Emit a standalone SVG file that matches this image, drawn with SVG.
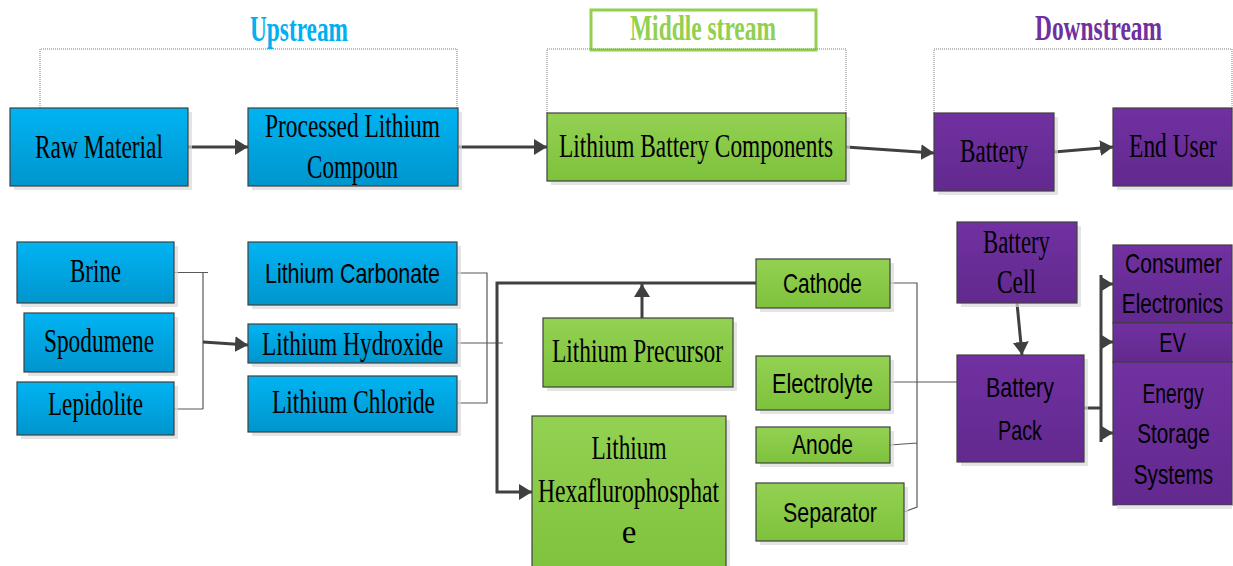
<svg xmlns="http://www.w3.org/2000/svg" width="1233" height="566" viewBox="0 0 1233 566">
<style>
.sh{fill:#d9d9d9;opacity:0.7}
.bl{fill:url(#gB);stroke:#404040;stroke-width:1.2}
.gr{fill:url(#gG);stroke:#404040;stroke-width:1.2}
.pu{fill:url(#gP);stroke:#404040;stroke-width:1.2}
.se{font-family:"Liberation Serif","Times New Roman",serif;font-size:33px;fill:#000;text-anchor:middle}
.sa{font-family:"Liberation Sans",Arial,sans-serif;font-size:28px;fill:#000;text-anchor:middle}
.ti{font-family:"Liberation Serif","Times New Roman",serif;font-size:35px;font-weight:bold;text-anchor:middle}
.dot{fill:none;stroke:#808080;stroke-width:1;stroke-dasharray:1 1}
.thin{fill:none;stroke:#595959;stroke-width:1.2}
.thk{fill:none;stroke:#404040;stroke-width:3}
</style>
<defs>
<linearGradient id="gB" x1="0" y1="0" x2="0" y2="1"><stop offset="0" stop-color="#00B4F2"/><stop offset="1" stop-color="#0095CD"/></linearGradient>
<linearGradient id="gG" x1="0" y1="0" x2="0" y2="1"><stop offset="0" stop-color="#93D152"/><stop offset="1" stop-color="#7EC23C"/></linearGradient>
<linearGradient id="gP" x1="0" y1="0" x2="0" y2="1"><stop offset="0" stop-color="#7131A1"/><stop offset="1" stop-color="#62298E"/></linearGradient>
<marker id="ar" markerUnits="userSpaceOnUse" markerWidth="14" markerHeight="18" refX="13" refY="8" orient="auto"><path d="M0,0 L13,8 L0,16 Z" fill="#404040"/></marker>
</defs>

<g id="labels">
<text class="ti" x="299" y="41" textLength="98" lengthAdjust="spacingAndGlyphs" fill="#00B0F0">Upstream</text>
<rect x="591" y="10" width="225" height="40" fill="#fff" stroke="#92D050" stroke-width="3"/>
<text class="ti" x="703" y="40" textLength="146" lengthAdjust="spacingAndGlyphs" fill="#92D050">Middle stream</text>
<text class="ti" x="1098.5" y="40" textLength="127" lengthAdjust="spacingAndGlyphs" fill="#7030A0">Downstream</text>
</g>

<g id="brackets">
<path class="dot" d="M40,108 V49 H457 V108"/>
<path class="dot" d="M547,113 V49 H846 V113"/>
<path class="dot" d="M934,113 V49 H1232 V113"/>
</g>

<g id="connectors">
<path class="thk" d="M188,147 H248" marker-end="url(#ar)"/>
<path class="thk" d="M458,147 H547" marker-end="url(#ar)"/>
<path class="thk" d="M846,147 L934,153" marker-end="url(#ar)"/>
<path class="thk" d="M1054,152 L1113,147" marker-end="url(#ar)"/>
<path class="thin" d="M174,272.5 H208 M203,272.5 V409 M174,409 H203"/>
<path class="thk" d="M203,342 L248,345" marker-end="url(#ar)"/>
<path class="thin" d="M457,273 H487 V403 H457 M457,343 H503"/>
<path class="thk" d="M756,283 H497 V492 H532" marker-end="url(#ar)"/>
<path class="thk" d="M642,318 V284" marker-end="url(#ar)"/>
<path class="thin" d="M890,283 H917 V507 L904,512 M890,445 L917,443 M890,382 H957"/>
<path class="thk" d="M1017,303 L1022,355" marker-end="url(#ar)"/>
<path class="thk" d="M1084,408 H1101 M1101,275 V442"/>
<path class="thk" d="M1101,284 H1113" marker-end="url(#ar)"/>
<path class="thk" d="M1101,342 H1113" marker-end="url(#ar)"/>
<path class="thk" d="M1101,433 H1113" marker-end="url(#ar)"/>
</g>

<g id="raw-material"><rect class="sh" x="14" y="112" width="178" height="78"/><rect class="bl" x="10" y="108" width="178" height="78"/><text class="se" x="99" y="158" textLength="128" lengthAdjust="spacingAndGlyphs">Raw Material</text></g>
<g id="processed-lithium"><rect class="sh" x="252" y="112" width="210" height="78"/><rect class="bl" x="248" y="108" width="210" height="78"/><text class="se" x="352.5" y="137" textLength="175" lengthAdjust="spacingAndGlyphs">Processed Lithium</text><text class="se" x="352.5" y="178" textLength="91" lengthAdjust="spacingAndGlyphs">Compoun</text></g>
<g id="lithium-battery-components"><rect class="sh" x="551" y="117" width="299" height="68"/><rect class="gr" x="547" y="113" width="299" height="68"/><text class="se" x="696" y="157" textLength="274" lengthAdjust="spacingAndGlyphs">Lithium Battery Components</text></g>
<g id="battery"><rect class="sh" x="938" y="117" width="120" height="78"/><rect class="pu" x="934" y="113" width="120" height="78"/><text class="se" x="994" y="162" textLength="68" lengthAdjust="spacingAndGlyphs">Battery</text></g>
<g id="end-user"><rect class="sh" x="1117" y="112" width="116" height="78"/><rect class="pu" x="1113" y="108" width="119" height="78"/><text class="se" transform="translate(1173,157) scale(0.71,1)">End User</text></g>

<g id="brine"><rect class="sh" x="21" y="246" width="157" height="61"/><rect class="bl" x="17" y="242" width="157" height="61"/><text class="se" x="95.5" y="282" textLength="51" lengthAdjust="spacingAndGlyphs">Brine</text></g>
<g id="spodumene"><rect class="sh" x="28" y="317" width="150" height="59"/><rect class="bl" x="24" y="313" width="150" height="59"/><text class="se" x="99" y="352" textLength="110" lengthAdjust="spacingAndGlyphs">Spodumene</text></g>
<g id="lepidolite"><rect class="sh" x="21" y="386" width="157" height="53"/><rect class="bl" x="17" y="382" width="157" height="53"/><text class="se" x="95.5" y="415" textLength="95" lengthAdjust="spacingAndGlyphs">Lepidolite</text></g>

<g id="lithium-carbonate"><rect class="sh" x="252" y="246" width="209" height="63"/><rect class="bl" x="248" y="242" width="209" height="63"/><text class="sa" x="352.5" y="283" textLength="175" lengthAdjust="spacingAndGlyphs">Lithium Carbonate</text></g>
<g id="lithium-hydroxide"><rect class="sh" x="252" y="328" width="209" height="39"/><rect class="bl" x="248" y="324" width="209" height="39"/><text class="se" x="352.5" y="355" textLength="181" lengthAdjust="spacingAndGlyphs">Lithium Hydroxide</text></g>
<g id="lithium-chloride"><rect class="sh" x="252" y="380" width="209" height="56"/><rect class="bl" x="248" y="376" width="209" height="56"/><text class="se" x="353.5" y="413" textLength="163" lengthAdjust="spacingAndGlyphs">Lithium Chloride</text></g>

<g id="lithium-precursor"><rect class="sh" x="547" y="322" width="190" height="69"/><rect class="gr" x="543" y="318" width="190" height="69"/><text class="se" x="637.5" y="362" textLength="171" lengthAdjust="spacingAndGlyphs">Lithium Precursor</text></g>
<g id="lithium-hexafluorophosphate"><rect class="sh" x="536" y="420" width="194" height="160"/><rect class="gr" x="532" y="416" width="194" height="160"/><text class="se" x="629" y="459" textLength="75" lengthAdjust="spacingAndGlyphs">Lithium</text><text class="se" x="628.5" y="502" textLength="181" lengthAdjust="spacingAndGlyphs">Hexaflurophosphat</text><text class="se" x="629" y="543">e</text></g>

<g id="cathode"><rect class="sh" x="760" y="263" width="134" height="49"/><rect class="gr" x="756" y="259" width="134" height="49"/><text class="sa" x="822.5" y="293" textLength="79" lengthAdjust="spacingAndGlyphs">Cathode</text></g>
<g id="electrolyte"><rect class="sh" x="760" y="360" width="134" height="54"/><rect class="gr" x="756" y="356" width="134" height="54"/><text class="sa" x="822.5" y="393" textLength="101" lengthAdjust="spacingAndGlyphs">Electrolyte</text></g>
<g id="anode"><rect class="sh" x="760" y="431" width="134" height="36"/><rect class="gr" x="756" y="427" width="134" height="36"/><text class="sa" x="822.5" y="454" textLength="61" lengthAdjust="spacingAndGlyphs">Anode</text></g>
<g id="separator"><rect class="sh" x="760" y="487" width="148" height="58"/><rect class="gr" x="756" y="483" width="148" height="58"/><text class="sa" x="830" y="522" textLength="94" lengthAdjust="spacingAndGlyphs">Separator</text></g>

<g id="battery-cell"><rect class="sh" x="961" y="226" width="120" height="81"/><rect class="pu" x="957" y="222" width="120" height="81"/><text class="se" x="1016.5" y="253" textLength="67" lengthAdjust="spacingAndGlyphs">Battery</text><text class="se" x="1016.5" y="293" textLength="39" lengthAdjust="spacingAndGlyphs">Cell</text></g>
<g id="battery-pack"><rect class="sh" x="961" y="359" width="127" height="107"/><rect class="pu" x="957" y="355" width="127" height="107"/><text class="sa" x="1020" y="397" textLength="68" lengthAdjust="spacingAndGlyphs">Battery</text><text class="sa" x="1020" y="440" textLength="44" lengthAdjust="spacingAndGlyphs">Pack</text></g>

<g id="consumer-electronics"><rect class="pu" x="1113" y="245" width="119" height="78"/><text class="sa" transform="translate(1173.5,273) scale(0.75,1)">Consumer</text><text class="sa" transform="translate(1172.5,313) scale(0.74,1)">Electronics</text></g>
<g id="ev"><rect class="pu" x="1113" y="323" width="119" height="39"/><text class="sa" transform="translate(1172.5,352) scale(0.71,1)">EV</text></g>
<g id="energy-storage-systems"><rect class="pu" x="1113" y="362" width="119" height="143"/><rect class="sh" x="1117" y="505" width="115" height="4"/><text class="sa" transform="translate(1173,403) scale(0.69,1)">Energy</text><text class="sa" transform="translate(1173.5,443) scale(0.74,1)">Storage</text><text class="sa" transform="translate(1173.5,484) scale(0.74,1)">Systems</text></g>
</svg>
